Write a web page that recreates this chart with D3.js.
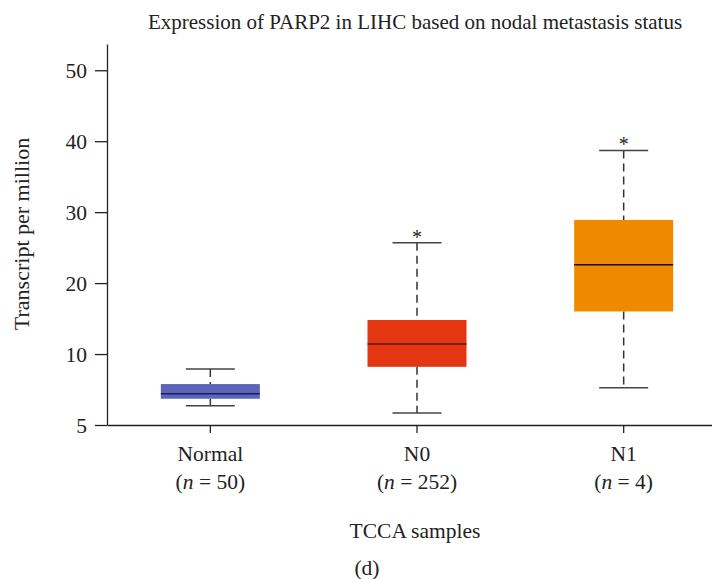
<!DOCTYPE html>
<html><head><meta charset="utf-8">
<script src="https://cdn.jsdelivr.net/npm/d3@7"></script>
<style>body{margin:0;background:#fff}svg{display:block}text{font-family:"Liberation Serif","DejaVu Serif",serif;fill:#222}</style>
</head><body><svg id="c" width="712" height="579"></svg>
<script>
const categories = ["Normal", "N0", "N1"];
const sampleSizes = ["50", "252", "4"];
const whiskerLow = [2.7, 1.7, 5.25];
const q1 = [3.7, 8.2, 16.0];
const median = [4.4, 11.4, 22.6];
const q3 = [5.77, 14.8, 28.9];
const whiskerHigh = [7.9, 25.7, 38.7];
const significant = [false, true, true];
const colors = ["#5C64BB", "#E33611", "#EE8900"];
const medianColors = ["#1e2050", "#5a1406", "#111111"];
const yTickValues = [0, 10, 20, 30, 40, 50];
const yTickLabels = ["5", "10", "20", "30", "40", "50"];

const svg = d3.select("#c");
const x = d3.scaleBand().domain(categories).range([107, 727]);
const y = d3.scaleLinear().domain([0, 53.7]).range([425, 44]);
const bw = 99, cw = 49;
const fs = "21.5px";

// axes
const yAxis = d3.axisLeft(y).tickValues(yTickValues).tickFormat((d,i)=>yTickLabels[i]).tickSize(12).tickSizeOuter(0).tickPadding(8);
const gy = svg.append("g").attr("transform","translate(107,0)").call(yAxis);
gy.selectAll("text").style("font-size",fs).attr("fill","#222").attr("dy","0.34em");
gy.selectAll("line,path").attr("stroke","#222").attr("stroke-width",1.3);

const xAxis = d3.axisBottom(x).tickSize(8).tickSizeOuter(0).tickFormat(()=> "");
const gx = svg.append("g").attr("transform","translate(0,425)").call(xAxis);
gx.selectAll("line,path").attr("stroke","#222").attr("stroke-width",1.3);

// x labels
categories.forEach((c,i)=>{
  const cx = x(c)+x.bandwidth()/2;
  svg.append("text").attr("x",cx).attr("y",461).attr("text-anchor","middle").style("font-size",fs).text(c);
  const t = svg.append("text").attr("x",cx).attr("y",489).attr("text-anchor","middle").style("font-size",fs);
  t.append("tspan").text("(");
  t.append("tspan").style("font-style","italic").text("n");
  t.append("tspan").text(" = " + sampleSizes[i] + ")");
});

// boxes
const g = svg.append("g");
categories.forEach((c,i)=>{
  const cx = x(c)+x.bandwidth()/2;
  g.append("line").attr("x1",cx).attr("x2",cx).attr("y1",y(whiskerHigh[i])).attr("y2",y(q3[i]))
    .attr("stroke","#333").attr("stroke-width",1.5).attr("stroke-dasharray","8,5");
  g.append("line").attr("x1",cx).attr("x2",cx).attr("y1",y(q1[i])).attr("y2",y(whiskerLow[i]))
    .attr("stroke","#333").attr("stroke-width",1.5).attr("stroke-dasharray","8,5");
  [whiskerHigh[i], whiskerLow[i]].forEach(v=>{
    g.append("line").attr("x1",cx-cw/2).attr("x2",cx+cw/2).attr("y1",y(v)).attr("y2",y(v))
      .attr("stroke","#444").attr("stroke-width",1.5);
  });
  g.append("rect").attr("x",cx-bw/2).attr("width",bw).attr("y",y(q3[i])).attr("height",y(q1[i])-y(q3[i]))
    .attr("fill",colors[i]);
  g.append("line").attr("x1",cx-bw/2).attr("x2",cx+bw/2).attr("y1",y(median[i])).attr("y2",y(median[i]))
    .attr("stroke",medianColors[i]).attr("stroke-width",1.5);
  if (significant[i]) {
    g.append("text").attr("x",cx).attr("y",y(whiskerHigh[i])+1).attr("text-anchor","middle")
      .style("font-size","20px").attr("fill","#444").text("*");
  }
});

// titles
svg.append("text").attr("x",415).attr("y",29).attr("text-anchor","middle").style("font-size","21px")
  .text("Expression of PARP2 in LIHC based on nodal metastasis status");
svg.append("text").attr("transform","translate(29,234) rotate(-90)").attr("text-anchor","middle").style("font-size","22px")
  .text("Transcript per million");
svg.append("text").attr("x",415).attr("y",538).attr("text-anchor","middle").style("font-size",fs).text("TCCA samples");
svg.append("text").attr("x",367).attr("y",575).attr("text-anchor","middle").style("font-size",fs).text("(d)");
</script></body></html>
